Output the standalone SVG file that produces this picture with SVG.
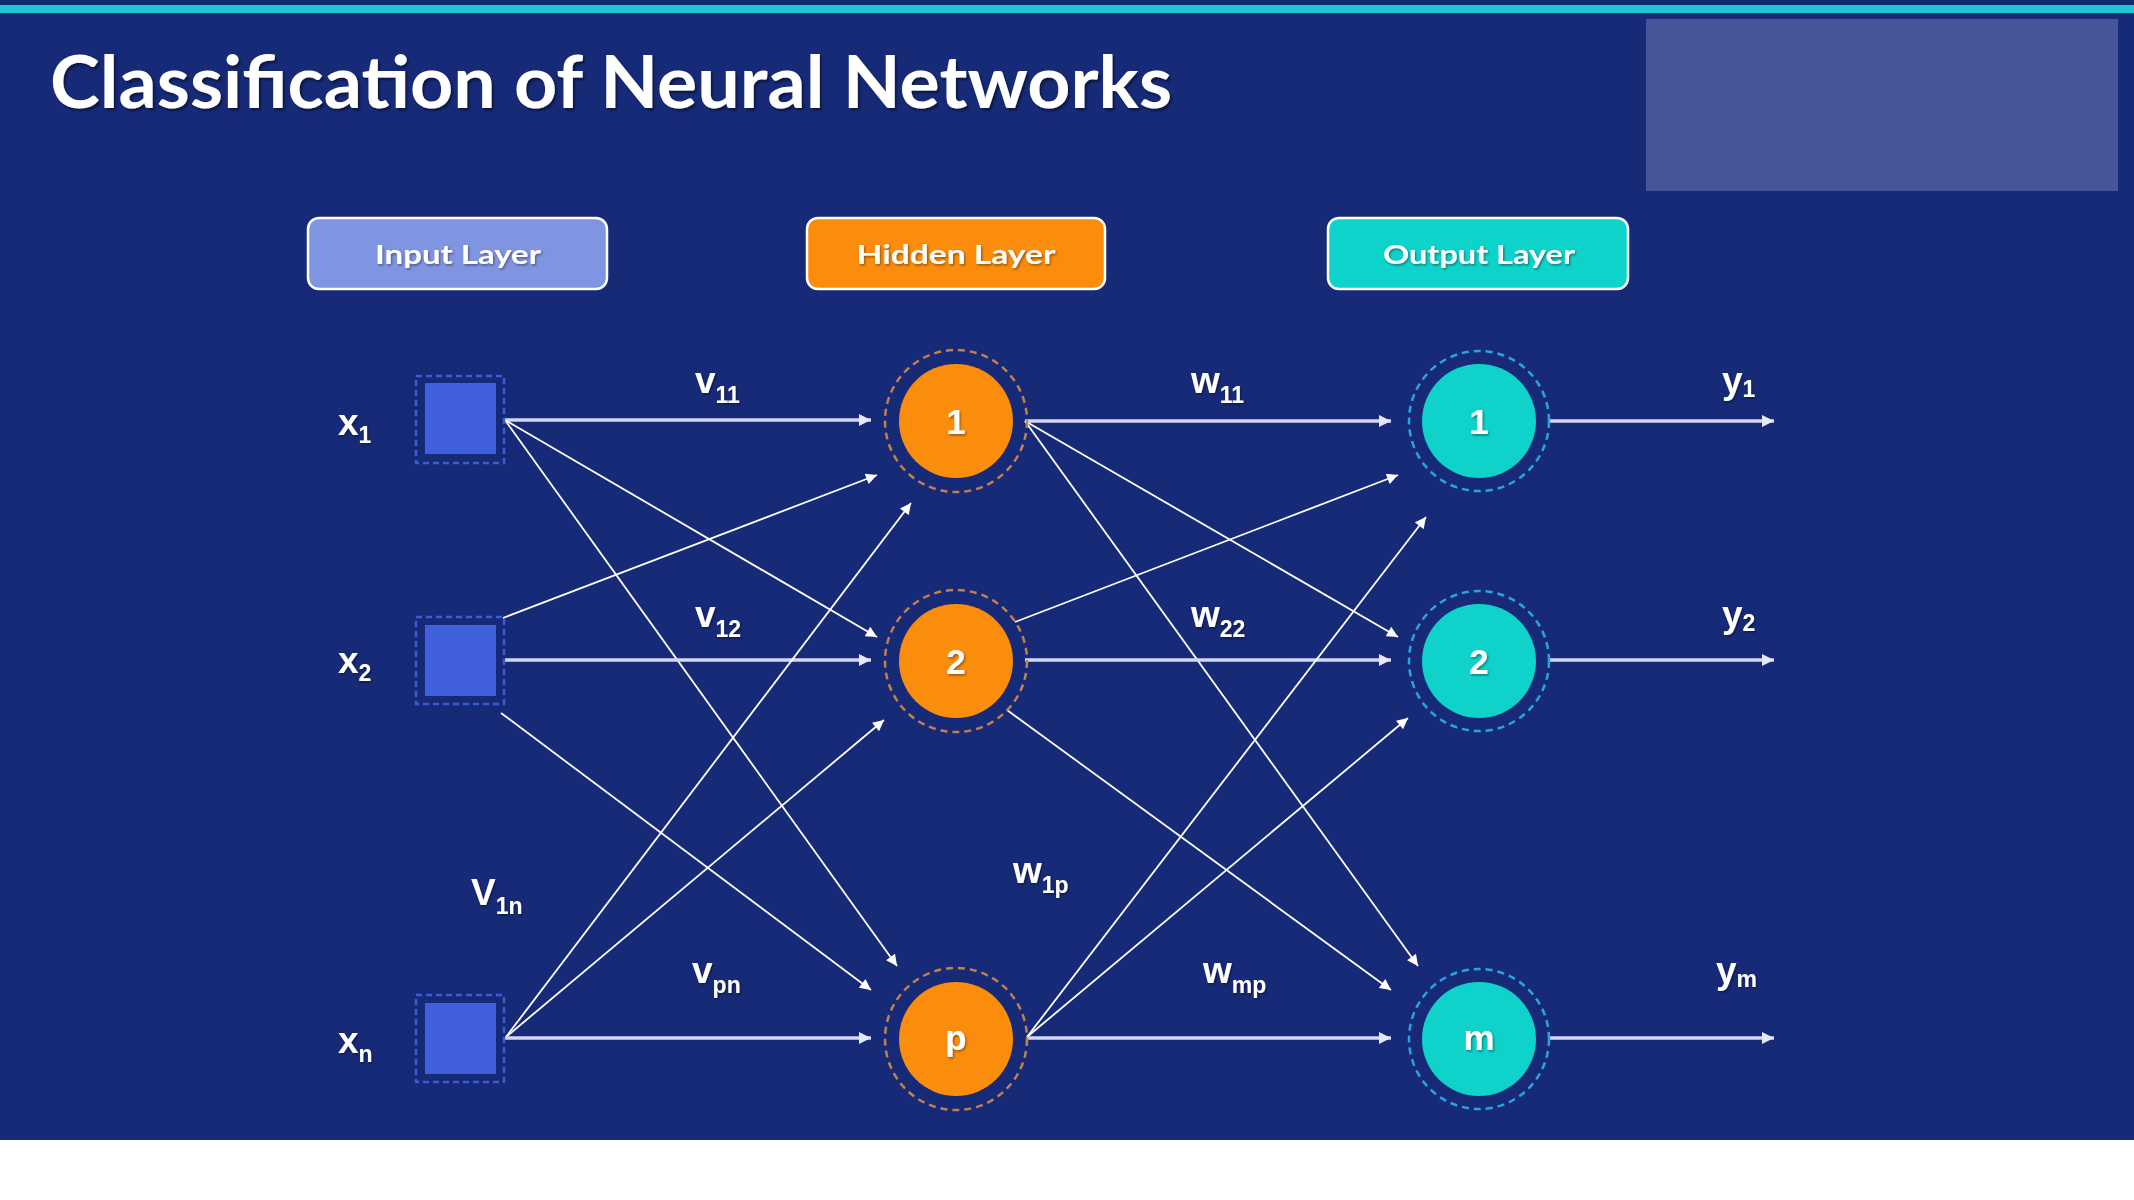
<svg xmlns="http://www.w3.org/2000/svg" width="2134" height="1200" viewBox="0 0 2134 1200">
  <style>
    .title { font-family: "Lato", "Open Sans", "Liberation Sans", sans-serif; font-weight: 700; font-size: 72px; fill: #ffffff; }
    .boxtxt { font-family: "Lato", "Open Sans", "Liberation Sans", sans-serif; font-weight: 700; font-size: 27px; fill: #ffffff; text-anchor: middle; }
    .lbl { font-family: "Liberation Sans", "Arial", sans-serif; font-weight: 700; font-size: 37px; fill: #ffffff; }
    .sub { font-size: 23px; }
    .num { font-family: "Liberation Sans", "Arial", sans-serif; font-weight: 700; font-size: 35px; fill: #ffffff; text-anchor: middle; }
    .layerbox { stroke: #ffffff; stroke-width: 2.5; }
    .sq { fill: #3f5fdc; }
    .sqring { fill: none; stroke: #3d5bd2; stroke-width: 2.5; stroke-dasharray: 6 4; }
    .hid { fill: #fb8d0c; }
    .hidring { fill: none; stroke: #c2804f; stroke-width: 2.5; stroke-dasharray: 7 5; }
    .out { fill: #0fd2ca; }
    .outring { fill: none; stroke: #2aa4e0; stroke-width: 2.5; stroke-dasharray: 7 5; }
    .hline { stroke: #d3d7f5; stroke-width: 3.5; fill: none; marker-end: url(#headBig); }
    .dline { stroke: #ffffff; stroke-width: 1.8; fill: none; marker-end: url(#headSmall); }
  </style>
  <defs>
    <marker id="headBig" viewBox="0 0 10 10" refX="10" refY="5" markerWidth="13" markerHeight="12" markerUnits="userSpaceOnUse" orient="auto">
      <path d="M0,0 L10,5 L0,10 z" fill="#e6e8fa"/>
    </marker>
    <marker id="headSmall" viewBox="0 0 10 10" refX="10" refY="5" markerWidth="13" markerHeight="11" markerUnits="userSpaceOnUse" orient="auto">
      <path d="M0,0 L10,5 L0,10 z" fill="#ffffff"/>
    </marker>
    <filter id="shadow" x="-10%" y="-20%" width="120%" height="150%">
      <feDropShadow dx="2" dy="2.5" stdDeviation="1" flood-color="#000000" flood-opacity="0.45"/>
    </filter>
    <filter id="softshadow" x="-10%" y="-20%" width="120%" height="150%">
      <feDropShadow dx="1.2" dy="1.5" stdDeviation="0.8" flood-color="#000000" flood-opacity="0.4"/>
    </filter>
  </defs>

  <!-- slide background -->
  <rect x="0" y="0" width="2134" height="1200" fill="#ffffff"/>
  <rect x="0" y="0" width="2134" height="1140" fill="#172a77"/>
  <rect x="0" y="0" width="2134" height="5" fill="#0f2a6c"/>
  <rect x="0" y="5" width="2134" height="8" fill="#1ec6d6"/>
  <rect x="1646" y="19" width="472" height="172" fill="#46559a"/>

  <text class="title" x="50" y="108" textLength="1122" lengthAdjust="spacingAndGlyphs" filter="url(#shadow)">Classification of Neural Networks</text>

  <!-- layer headers -->
  <g id="hdr-input">
    <rect class="layerbox" x="308" y="218" width="299" height="71" rx="11" fill="#7f95e2"/>
    <text class="boxtxt" x="458" y="264" textLength="166" lengthAdjust="spacingAndGlyphs" filter="url(#softshadow)">Input Layer</text>
  </g>
  <g id="hdr-hidden">
    <rect class="layerbox" x="807" y="218" width="298" height="71" rx="11" fill="#fb8c0c"/>
    <text class="boxtxt" x="956" y="264" textLength="199" lengthAdjust="spacingAndGlyphs" filter="url(#softshadow)">Hidden Layer</text>
  </g>
  <g id="hdr-output">
    <rect class="layerbox" x="1328" y="218" width="300" height="71" rx="11" fill="#0ed3ca"/>
    <text class="boxtxt" x="1479" y="264" textLength="192" lengthAdjust="spacingAndGlyphs" filter="url(#softshadow)">Output Layer</text>
  </g>

  <!-- connections -->
  <g id="connectors">
    <!-- input to hidden -->
    <line class="hline" x1="505" y1="420" x2="871" y2="420"/>
    <line class="dline" x1="505" y1="420" x2="877" y2="637"/>
    <line class="dline" x1="505" y1="420" x2="897" y2="966"/>
    <line class="dline" x1="503" y1="618" x2="877" y2="475"/>
    <line class="hline" x1="505" y1="660" x2="871" y2="660"/>
    <line class="dline" x1="501" y1="713" x2="871" y2="990"/>
    <line class="dline" x1="506" y1="1037" x2="911" y2="503"/>
    <line class="dline" x1="506" y1="1037" x2="884" y2="720"/>
    <line class="hline" x1="505" y1="1038" x2="871" y2="1038"/>
    <!-- hidden to output -->
    <line class="hline" x1="1025" y1="421" x2="1391" y2="421"/>
    <line class="dline" x1="1025" y1="421" x2="1398" y2="637"/>
    <line class="dline" x1="1025" y1="421" x2="1418" y2="966"/>
    <line class="dline" x1="1015" y1="622" x2="1398" y2="475"/>
    <line class="hline" x1="1025" y1="660" x2="1391" y2="660"/>
    <line class="dline" x1="1007" y1="710" x2="1391" y2="990"/>
    <line class="dline" x1="1027" y1="1037" x2="1426" y2="517"/>
    <line class="dline" x1="1027" y1="1037" x2="1408" y2="718"/>
    <line class="hline" x1="1027" y1="1038" x2="1391" y2="1038"/>
    <!-- outputs -->
    <line class="hline" x1="1548" y1="421" x2="1774" y2="421"/>
    <line class="hline" x1="1548" y1="660" x2="1774" y2="660"/>
    <line class="hline" x1="1548" y1="1038" x2="1774" y2="1038"/>
  </g>

  <!-- input units -->
  <g id="in-x1">
    <rect class="sqring" x="416" y="376" width="88" height="87"/>
    <rect class="sq" x="425" y="383" width="71" height="71"/>
  </g>
  <g id="in-x2">
    <rect class="sqring" x="416" y="617" width="88" height="87"/>
    <rect class="sq" x="425" y="625" width="71" height="71"/>
  </g>
  <g id="in-xn">
    <rect class="sqring" x="416" y="995" width="88" height="87"/>
    <rect class="sq" x="425" y="1003" width="71" height="71"/>
  </g>

  <!-- hidden units -->
  <g id="hid-1">
    <circle class="hidring" cx="956" cy="421" r="71"/>
    <circle class="hid" cx="956" cy="421" r="57"/>
    <text class="num" x="956" y="434" filter="url(#softshadow)">1</text>
  </g>
  <g id="hid-2">
    <circle class="hidring" cx="956" cy="661" r="71"/>
    <circle class="hid" cx="956" cy="661" r="57"/>
    <text class="num" x="956" y="674" filter="url(#softshadow)">2</text>
  </g>
  <g id="hid-p">
    <circle class="hidring" cx="956" cy="1039" r="71"/>
    <circle class="hid" cx="956" cy="1039" r="57"/>
    <text class="num" x="956" y="1050" filter="url(#softshadow)">p</text>
  </g>

  <!-- output units -->
  <g id="out-1">
    <circle class="outring" cx="1479" cy="421" r="70"/>
    <circle class="out" cx="1479" cy="421" r="57"/>
    <text class="num" x="1479" y="434" filter="url(#softshadow)">1</text>
  </g>
  <g id="out-2">
    <circle class="outring" cx="1479" cy="661" r="70"/>
    <circle class="out" cx="1479" cy="661" r="57"/>
    <text class="num" x="1479" y="674" filter="url(#softshadow)">2</text>
  </g>
  <g id="out-m">
    <circle class="outring" cx="1479" cy="1039" r="70"/>
    <circle class="out" cx="1479" cy="1039" r="57"/>
    <text class="num" x="1479" y="1050" filter="url(#softshadow)">m</text>
  </g>

  <!-- symbol labels -->
  <g id="labels" filter="url(#softshadow)">
    <text class="lbl" x="338" y="435">x<tspan class="sub" dy="8">1</tspan></text>
    <text class="lbl" x="338" y="673">x<tspan class="sub" dy="8">2</tspan></text>
    <text class="lbl" x="338" y="1053">x<tspan class="sub" dy="9">n</tspan></text>
    <text class="lbl" x="695" y="393">v<tspan class="sub" dy="10">11</tspan></text>
    <text class="lbl" x="695" y="627">v<tspan class="sub" dy="10">12</tspan></text>
    <text class="lbl" x="471" y="905">V<tspan class="sub" dy="9">1n</tspan></text>
    <text class="lbl" x="692" y="983">v<tspan class="sub" dy="10">pn</tspan></text>
    <text class="lbl" x="1191" y="393">w<tspan class="sub" dy="10">11</tspan></text>
    <text class="lbl" x="1191" y="627">w<tspan class="sub" dy="10">22</tspan></text>
    <text class="lbl" x="1013" y="883">w<tspan class="sub" dy="10">1p</tspan></text>
    <text class="lbl" x="1203" y="983">w<tspan class="sub" dy="10">mp</tspan></text>
    <text class="lbl" x="1722" y="393">y<tspan class="sub" dy="4">1</tspan></text>
    <text class="lbl" x="1722" y="627">y<tspan class="sub" dy="4">2</tspan></text>
    <text class="lbl" x="1716" y="983">y<tspan class="sub" dy="4">m</tspan></text>
  </g>
</svg>
